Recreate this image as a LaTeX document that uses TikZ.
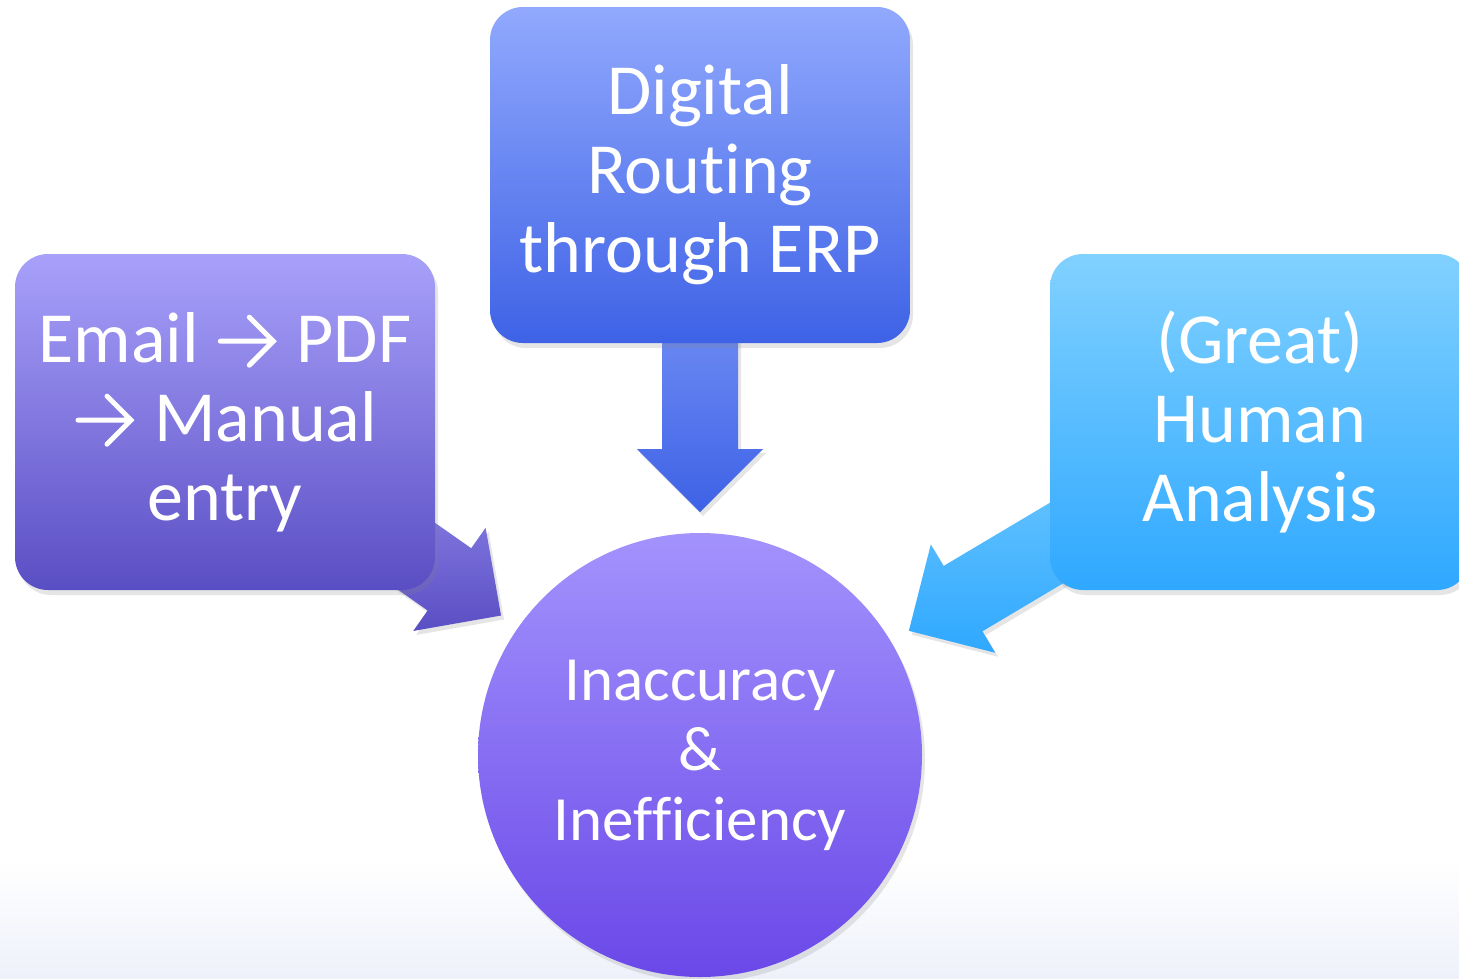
\documentclass[tikz,border=0pt]{standalone}
\usepackage{fontspec}
\setmainfont{Carlito}[Ligatures=NoCommon]
\usetikzlibrary{positioning,calc,shadows,backgrounds}

\definecolor{manualtop}{HTML}{A8A1FA}
\definecolor{manualbot}{HTML}{5A4EC4}
\definecolor{routingtop}{HTML}{91A9FD}
\definecolor{routingbot}{HTML}{3E62E6}
\definecolor{analysistop}{HTML}{81D1FF}
\definecolor{analysisbot}{HTML}{2FA8FF}
\definecolor{resulttop}{HTML}{A393FD}
\definecolor{resultbot}{HTML}{6A48E8}
\definecolor{bgfoot}{HTML}{EEF1FA}

\tikzset{%
  % Specifications for style of nodes:
            base/.style = {rounded corners=33pt, minimum width=420pt, minimum height=336pt,
                           inner sep=0pt, outer sep=0pt, text=white, align=center,
                           font=\fontsize{72}{79}\selectfont,
                           drop shadow={opacity=0.2, shadow xshift=3pt, shadow yshift=-5pt}},
          manual/.style = {base, top color=manualtop, bottom color=manualbot},
         routing/.style = {base, top color=routingtop, bottom color=routingbot},
        analysis/.style = {base, top color=analysistop, bottom color=analysisbot},
          result/.style = {base, circle, rounded corners=0pt, minimum size=444pt,
                           font=\fontsize{63}{70}\selectfont,
                           top color=resulttop, bottom color=resultbot},
% fat arrows into the circle
      fat/.style = {drop shadow={opacity=0.2, shadow xshift=3pt, shadow yshift=-4pt}},
}

% thin text arrow, as in the slide
\newcommand{\textarrow}{\tikz[x=1pt,y=1pt,baseline=0pt,sharp corners,line width=5pt,
    line cap=round,line join=miter]{\path (-5,0) (60,0);
    \draw[white] (0,21) -- (53,21) (29,-3) -- (53,21) -- (29,45);}}

% block arrow from a box to the circle: #1 box, #2 circle, #3 style
\newcommand{\blockarrow}[3]{%
  \coordinate (tip) at ($(#2.center)!243pt!(#1.center)$);
  \coordinate (neck) at ($(tip)!63pt!(#1.center)$);
  \path[fat,#3] ($(#1.center)!38pt!90:(tip)$) -- ($(neck)!38pt!90:(tip)$)
     -- ($(neck)!63pt!90:(tip)$) -- (tip) -- ($(neck)!63pt!-90:(tip)$)
     -- ($(neck)!38pt!-90:(tip)$) -- ($(#1.center)!38pt!-90:(tip)$) -- cycle;
}

\begin{document}
\begin{tikzpicture}[x=1pt, y=-1pt]
\useasboundingbox (0,0) rectangle (1459,978);

\node (inacc)	[result] at (700,755)	{Inaccuracy\\\&\\Inefficiency};
\node (digital)	[routing,above=190pt of inacc]	{Digital\\Routing\\through ERP};
\node (email)	[manual,left=55pt of digital,yshift=-247pt]	{Email \textarrow{} PDF\\\textarrow{} Manual\\entry};
\node (human)	[analysis,right=140pt of digital,yshift=-247pt]	{(Great)\\Human\\Analysis};

\begin{scope}[on background layer]
\fill[white] (0,0) rectangle (1459,978);
\shade[top color=white, bottom color=bgfoot] (0,860) rectangle (1459,978);
\blockarrow{email}{inacc}{top color=manualtop, bottom color=manualbot}
\blockarrow{digital}{inacc}{top color=routingtop, bottom color=routingbot}
\blockarrow{human}{inacc}{top color=analysistop, bottom color=analysisbot}
\end{scope}

\end{tikzpicture}
\end{document}
